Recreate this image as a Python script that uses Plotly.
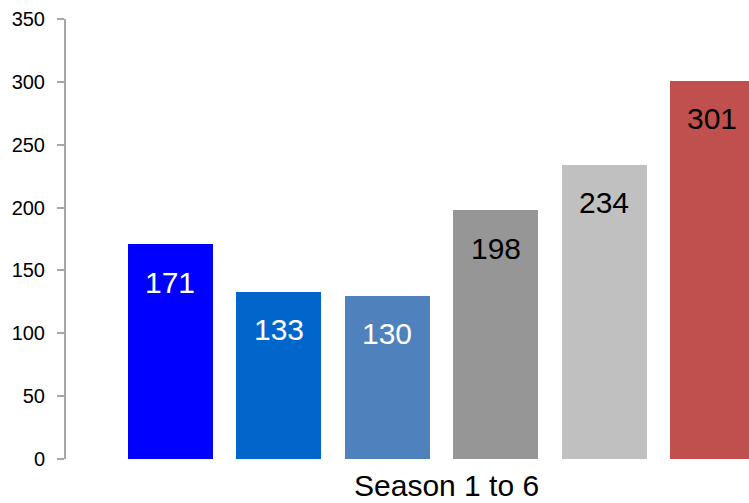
import plotly.graph_objects as go

seasons = ["Season 1", "Season 2", "Season 3", "Season 4", "Season 5", "Season 6"]
values = [171, 133, 130, 198, 234, 301]
colors = ["#0000FF", "#0066CC", "#4F81BD", "#969696", "#C0C0C0", "#C0504D"]
label_colors = ["white", "white", "white", "black", "black", "black"]
y_ticks = [0, 50, 100, 150, 200, 250, 300, 350]
x_title = "Season 1 to 6"

FONT = "Liberation Sans, Arial, sans-serif"
xpos = list(range(len(values)))

fig = go.Figure()
fig.add_trace(go.Bar(
    x=xpos, y=values, marker=dict(color=colors, line=dict(width=0)),
    width=0.784, showlegend=False, hoverinfo="skip",
))

for i, v in enumerate(values):
    fig.add_annotation(
        x=xpos[i], y=v, xref="x", yref="y", text=str(v), showarrow=False,
        yshift=-38, font=dict(family=FONT, size=30, color=label_colors[i]),
    )

fig.add_annotation(
    x=0.5575, y=0, xref="paper", yref="paper", yanchor="top", yshift=-8,
    text=x_title, showarrow=False, font=dict(family=FONT, size=30, color="black"),
)

fig.update_layout(
    width=749, height=503,
    margin=dict(l=66, r=0, t=19, b=44, pad=0),
    paper_bgcolor="white", plot_bgcolor="white",
    font=dict(family=FONT, color="black"),
    bargap=0,
    xaxis=dict(range=[-0.964, 5.337], showticklabels=False, showgrid=False,
               zeroline=False, showline=False, ticks=""),
    yaxis=dict(range=[0, 350], tickvals=y_ticks, ticktext=[str(t) for t in y_ticks],
               showgrid=False, zeroline=False, showline=True, linecolor="#A6A6A6",
               linewidth=2, ticks="outside", ticklen=7, tickwidth=1.5,
               tickcolor="#A6A6A6", ticklabelstandoff=8,
               tickfont=dict(family=FONT, size=20, color="black")),
)

fig.write_html(
    "out.html",
    config={"displayModeBar": False},
    post_script="document.body.style.margin='0';document.body.style.overflow='hidden';",
)
